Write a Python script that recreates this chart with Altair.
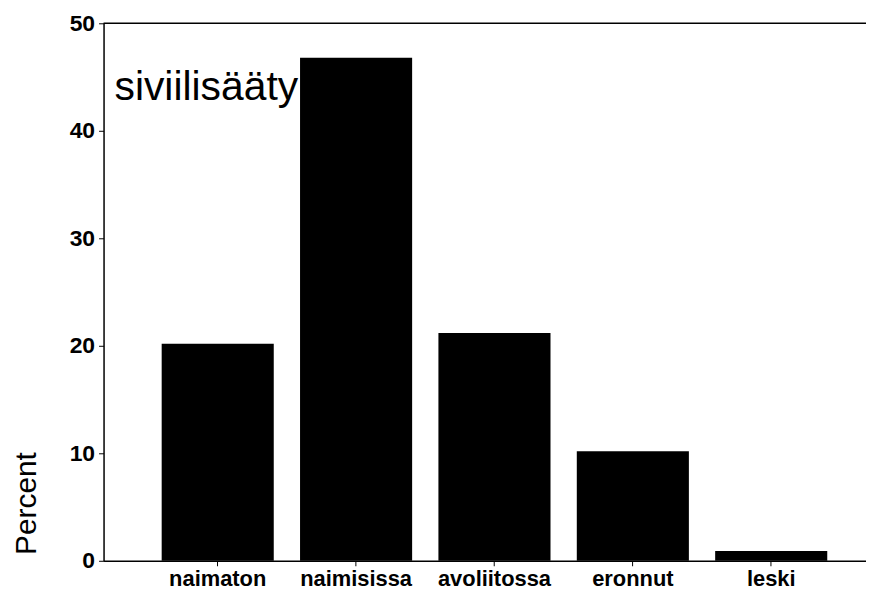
import altair as alt
import pandas as pd

categories = ["naimaton", "naimisissa", "avoliitossa", "eronnut", "leski"]
percents = [20.2, 46.8, 21.2, 10.2, 0.9]
title_text = "siviilisääty"
y_ticks = [0, 10, 20, 30, 40, 50]

df = pd.DataFrame({"cat": categories, "pct": percents})

W, H = 766, 540
FONT = "Liberation Sans"

x_enc = alt.X(
    "cat:N", sort=categories, title=None,
    scale=alt.Scale(paddingInner=0.19, paddingOuter=0.35, align=0.6),
    axis=alt.Axis(labelAngle=0, labelFont=FONT, labelFontSize=22, labelColor="black",
                  labelFontWeight="bold", domainColor="black", tickColor="black",
                  tickSize=5, labelPadding=3, domainWidth=1.5),
)
y_enc = alt.Y(
    "pct:Q", title="Percent",
    scale=alt.Scale(domain=[0, 50], nice=False),
    axis=alt.Axis(values=y_ticks, grid=False, labelFont=FONT, labelFontSize=23,
                  labelColor="black", labelFontWeight="bold", domainColor="black",
                  tickColor="black", tickSize=5, labelPadding=4, domainWidth=1.5,
                  titleFont=FONT, titleFontSize=30, titleFontWeight="normal",
                  titleColor="black", titleAngle=-90, titleX=-77, titleY=482,
                  titleAlign="center", titleBaseline="middle"),
)

label = alt.Chart(pd.DataFrame({"t": [title_text]})).mark_text(
    font=FONT, fontSize=41, align="left", baseline="alphabetic", color="black"
).encode(x=alt.value(11), y=alt.value(77), text="t:N")

bars = alt.Chart(df).mark_bar(color="black").encode(x=x_enc, y=y_enc)

top = alt.Chart(pd.DataFrame({"a": [0]})).mark_rule(color="black", strokeWidth=1.5).encode(
    x=alt.value(0), x2=alt.value(W), y=alt.value(0)
)

chart = alt.layer(label, bars, top).properties(
    width=W, height=H, autosize="none",
    padding={"left": 96, "top": 14, "right": 0, "bottom": 32},
).configure_view(stroke=None)

chart.save("out.html", embed_options={"renderer": "svg", "actions": False})
